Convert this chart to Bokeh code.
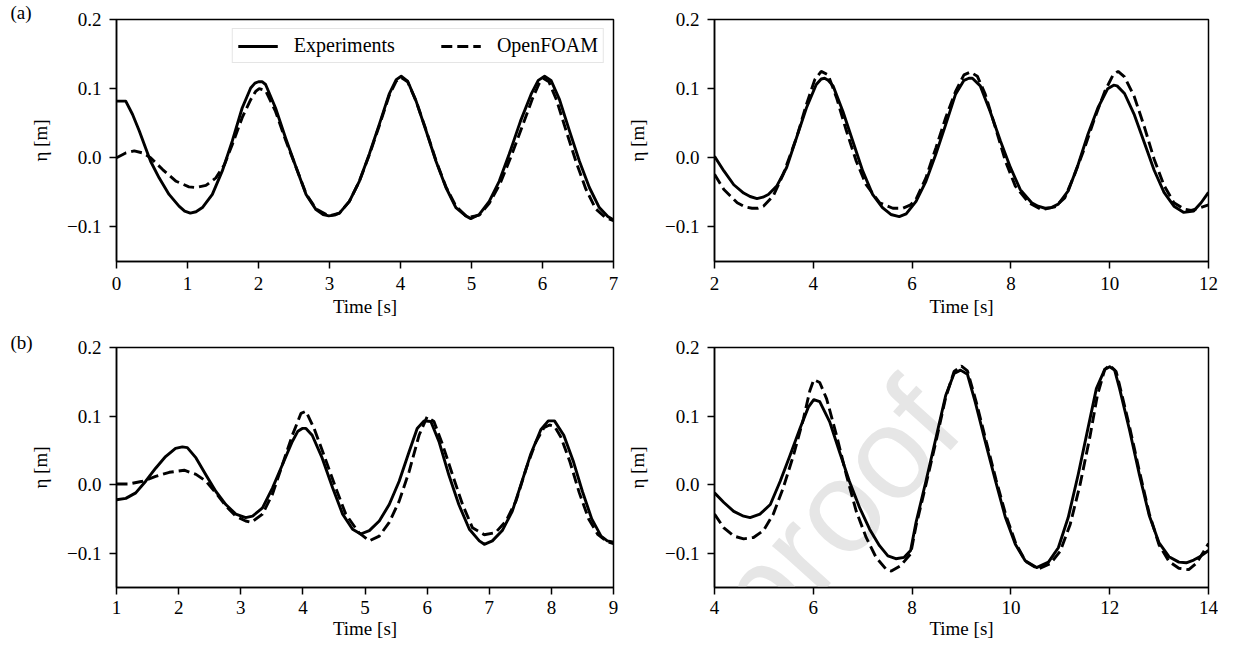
import math
from bokeh.plotting import figure
from bokeh.models import Label, FixedTicker
from bokeh.layouts import column, row
from bokeh.embed import file_html
from bokeh.resources import INLINE

# ---------------- data ----------------
series_names = ["Experiments", "OpenFOAM"]
panel_labels = ["(a)", "(b)"]
x_label = "Time [s]"
y_label = "η [m]"
y_ticks = [-0.1, 0.0, 0.1, 0.2]
y_tick_labels = ["−0.1", "0.0", "0.1", "0.2"]
watermark_text = "Journal Pre-proof"

# (a) left
a1_xticks = [0, 1, 2, 3, 4, 5, 6, 7]
a1_exp_t = [0, 0.13, 0.225, 0.32, 0.41, 0.48, 0.60, 0.74, 0.88, 0.96, 1.04, 1.12, 1.21, 1.35, 1.49,
            1.63, 1.77, 1.89, 1.95, 2.0, 2.05, 2.10, 2.24, 2.38, 2.53, 2.67, 2.81, 2.91, 2.99, 3.07,
            3.14, 3.28, 3.42, 3.56, 3.70, 3.84, 3.94, 4.01, 4.10, 4.22, 4.36, 4.50, 4.64, 4.78, 4.92,
            4.99, 5.11, 5.25, 5.39, 5.53, 5.69, 5.84, 5.94, 6.03, 6.12, 6.24, 6.38, 6.52, 6.66, 6.80,
            6.92, 7.0]
a1_exp_eta = [0.082, 0.082, 0.063, 0.039, 0.014, -0.005, -0.029, -0.053, -0.070, -0.077, -0.080, -0.078,
              -0.072, -0.053, -0.019, 0.024, 0.072, 0.101, 0.108, 0.110, 0.110, 0.106, 0.072, 0.029,
              -0.014, -0.053, -0.075, -0.082, -0.084, -0.083, -0.080, -0.063, -0.034, 0.005, 0.048,
              0.092, 0.113, 0.118, 0.111, 0.082, 0.039, -0.005, -0.043, -0.072, -0.084, -0.088, -0.082,
              -0.063, -0.034, 0.005, 0.053, 0.092, 0.112, 0.118, 0.112, 0.084, 0.039, -0.005, -0.043,
              -0.072, -0.085, -0.090]
a1_cfd_t = [0, 0.13, 0.25, 0.37, 0.48, 0.65, 0.84, 1.02, 1.12, 1.26, 1.40, 1.52, 1.63, 1.77, 1.89,
            1.96, 2.01, 2.10, 2.24, 2.38, 2.53, 2.67, 2.81, 2.99, 3.14, 3.28, 3.42, 3.56, 3.70, 3.84,
            3.94, 4.01, 4.10, 4.22, 4.36, 4.50, 4.64, 4.78, 4.92, 4.97, 5.11, 5.25, 5.40, 5.55, 5.72,
            5.86, 5.95, 6.01, 6.09, 6.20, 6.33, 6.47, 6.61, 6.75, 6.88, 7.0]
a1_cfd_eta = [0.0, 0.007, 0.010, 0.007, 0.0, -0.017, -0.034, -0.042, -0.043, -0.040, -0.029, -0.010,
              0.019, 0.058, 0.084, 0.096, 0.100, 0.097, 0.067, 0.026, -0.014, -0.052, -0.074, -0.084,
              -0.080, -0.063, -0.034, 0.004, 0.046, 0.090, 0.111, 0.116, 0.110, 0.082, 0.040, -0.004,
              -0.042, -0.070, -0.084, -0.086, -0.083, -0.066, -0.038, 0.000, 0.047, 0.086, 0.107, 0.115,
              0.110, 0.083, 0.040, -0.005, -0.045, -0.074, -0.086, -0.091]

# (a) right
a2_xticks = [2, 4, 6, 8, 10, 12]
a2_exp_t = [2.0, 2.19, 2.39, 2.59, 2.72, 2.86, 2.98, 3.09, 3.26, 3.46, 3.66, 3.86, 4.06, 4.16, 4.23,
            4.30, 4.40, 4.60, 4.80, 5.0, 5.20, 5.40, 5.57, 5.74, 5.88, 6.08, 6.28, 6.48, 6.68, 6.88,
            7.05, 7.15, 7.22, 7.38, 7.58, 7.79, 7.99, 8.19, 8.42, 8.55, 8.69, 8.82, 8.96, 9.16, 9.36,
            9.56, 9.76, 9.96, 10.08, 10.15, 10.3, 10.5, 10.7, 10.9, 11.1, 11.3, 11.5, 11.7, 11.85, 12.0]
a2_exp_eta = [0.002, -0.019, -0.039, -0.051, -0.056, -0.059, -0.057, -0.053, -0.041, -0.014, 0.029,
              0.072, 0.106, 0.114, 0.115, 0.112, 0.104, 0.067, 0.024, -0.019, -0.053, -0.072, -0.082,
              -0.085, -0.081, -0.063, -0.034, 0.005, 0.048, 0.092, 0.112, 0.115, 0.115, 0.104, 0.067,
              0.024, -0.014, -0.046, -0.065, -0.070, -0.073, -0.072, -0.067, -0.048, -0.010, 0.034,
              0.072, 0.100, 0.105, 0.104, 0.093, 0.062, 0.022, -0.018, -0.050, -0.070, -0.079, -0.077,
              -0.065, -0.050]
a2_cfd_t = [2.0, 2.19, 2.46, 2.62, 2.76, 2.88, 2.99, 3.19, 3.39, 3.66, 3.86, 4.03, 4.16, 4.30, 4.47,
            4.67, 4.87, 5.07, 5.34, 5.61, 5.81, 5.97, 6.08, 6.28, 6.48, 6.68, 6.88, 7.05, 7.18, 7.32,
            7.48, 7.69, 7.89, 8.09, 8.36, 8.62, 8.89, 9.09, 9.29, 9.49, 9.70, 9.90, 10.07, 10.17, 10.3,
            10.5, 10.7, 10.9, 11.1, 11.3, 11.5, 11.65, 11.8, 12.0]
a2_cfd_eta = [-0.024, -0.046, -0.065, -0.071, -0.073, -0.073, -0.070, -0.055, -0.024, 0.029, 0.077,
              0.113, 0.125, 0.120, 0.087, 0.039, -0.005, -0.039, -0.065, -0.073, -0.073, -0.068, -0.060,
              -0.029, 0.014, 0.058, 0.096, 0.120, 0.124, 0.118, 0.092, 0.043, -0.005, -0.041, -0.065,
              -0.075, -0.071, -0.058, -0.024, 0.014, 0.058, 0.096, 0.120, 0.125, 0.117, 0.088, 0.045,
              -0.002, -0.040, -0.065, -0.074, -0.076, -0.073, -0.068]

# (b) left
b1_xticks = [1, 2, 3, 4, 5, 6, 7, 8, 9]
b1_exp_t = [1.0, 1.15, 1.31, 1.47, 1.63, 1.79, 1.95, 2.06, 2.14, 2.28, 2.44, 2.60, 2.76, 2.92, 3.08,
            3.19, 3.35, 3.51, 3.67, 3.83, 3.92, 3.99, 4.05, 4.15, 4.31, 4.48, 4.64, 4.80, 4.93, 5.07,
            5.23, 5.39, 5.55, 5.71, 5.84, 5.95, 6.06, 6.19, 6.35, 6.51, 6.68, 6.84, 6.92, 7.05, 7.21,
            7.37, 7.51, 7.67, 7.83, 7.95, 8.05, 8.2, 8.35, 8.5, 8.65, 8.8, 8.9, 9.0]
b1_exp_eta = [-0.022, -0.020, -0.012, 0.005, 0.024, 0.041, 0.053, 0.055, 0.054, 0.039, 0.014, -0.010,
              -0.029, -0.043, -0.048, -0.046, -0.034, -0.005, 0.029, 0.063, 0.078, 0.082, 0.082, 0.072,
              0.039, -0.005, -0.043, -0.065, -0.072, -0.067, -0.053, -0.029, 0.005, 0.048, 0.082, 0.093,
              0.092, 0.063, 0.014, -0.029, -0.065, -0.082, -0.087, -0.082, -0.067, -0.039, 0.000, 0.045,
              0.080, 0.093, 0.093, 0.072, 0.035, -0.010, -0.050, -0.075, -0.082, -0.084]
b1_cfd_t = [1.0, 1.2, 1.42, 1.63, 1.85, 2.09, 2.28, 2.44, 2.60, 2.76, 2.92, 3.08, 3.17, 3.35, 3.51,
            3.67, 3.83, 3.97, 4.05, 4.18, 4.34, 4.53, 4.69, 4.90, 5.07, 5.23, 5.39, 5.55, 5.71, 5.87,
            6.00, 6.11, 6.25, 6.41, 6.57, 6.73, 6.92, 7.10, 7.27, 7.43, 7.60, 7.75, 7.88, 7.97, 8.05,
            8.15, 8.3, 8.45, 8.6, 8.75, 8.9, 9.0]
b1_cfd_eta = [0.001, 0.001, 0.005, 0.012, 0.018, 0.021, 0.015, 0.005, -0.012, -0.031, -0.046, -0.053,
              -0.055, -0.043, -0.014, 0.029, 0.072, 0.104, 0.107, 0.082, 0.043, -0.005, -0.043, -0.070,
              -0.082, -0.075, -0.055, -0.024, 0.019, 0.072, 0.099, 0.092, 0.058, 0.014, -0.029, -0.063,
              -0.073, -0.070, -0.053, -0.024, 0.025, 0.062, 0.083, 0.087, 0.085, 0.070, 0.033, -0.012,
              -0.050, -0.073, -0.083, -0.086]

# (b) right
b2_xticks = [4, 6, 8, 10, 12, 14]
b2_exp_t = [4.0, 4.19, 4.39, 4.59, 4.72, 4.92, 5.13, 5.33, 5.53, 5.73, 5.90, 6.01, 6.13, 6.33, 6.53,
            6.73, 6.94, 7.14, 7.34, 7.51, 7.67, 7.84, 7.97, 8.08, 8.28, 8.48, 8.68, 8.85, 8.98, 9.12,
            9.28, 9.48, 9.69, 9.89, 10.09, 10.29, 10.52, 10.76, 10.96, 11.16, 11.36, 11.56, 11.73,
            11.90, 12.0, 12.1, 12.2, 12.4, 12.6, 12.8, 13.0, 13.2, 13.4, 13.55, 13.7, 13.85, 14.0]
b2_exp_eta = [-0.012, -0.026, -0.039, -0.046, -0.048, -0.043, -0.029, 0.005, 0.043, 0.082, 0.113, 0.124,
              0.121, 0.092, 0.048, 0.005, -0.034, -0.065, -0.089, -0.104, -0.108, -0.106, -0.096, -0.055,
              0.005, 0.067, 0.130, 0.162, 0.167, 0.161, 0.120, 0.063, 0.005, -0.048, -0.087, -0.111,
              -0.121, -0.113, -0.092, -0.048, 0.014, 0.082, 0.140, 0.168, 0.172, 0.167, 0.140, 0.080,
              0.015, -0.045, -0.085, -0.105, -0.113, -0.114, -0.110, -0.104, -0.096]
b2_cfd_t = [4.0, 4.19, 4.39, 4.59, 4.79, 4.99, 5.19, 5.39, 5.60, 5.80, 5.93, 6.01, 6.13, 6.27, 6.47,
            6.67, 6.87, 7.07, 7.27, 7.47, 7.58, 7.77, 7.97, 8.08, 8.28, 8.48, 8.68, 8.85, 9.0, 9.12,
            9.3, 9.5, 9.7, 9.9, 10.1, 10.3, 10.55, 10.8, 11.0, 11.2, 11.4, 11.6, 11.75, 11.9, 12.0,
            12.13, 12.2, 12.4, 12.6, 12.8, 13.0, 13.2, 13.4, 13.6, 13.75, 13.9, 14.0]
b2_cfd_eta = [-0.043, -0.063, -0.075, -0.079, -0.077, -0.067, -0.043, -0.005, 0.043, 0.096, 0.137, 0.153,
              0.149, 0.125, 0.072, 0.014, -0.039, -0.077, -0.106, -0.123, -0.126, -0.118, -0.101, -0.060,
              0.0, 0.062, 0.127, 0.165, 0.173, 0.166, 0.120, 0.063, 0.007, -0.045, -0.086, -0.112,
              -0.123, -0.115, -0.097, -0.058, 0.0, 0.070, 0.130, 0.168, 0.174, 0.165, 0.145, 0.085,
              0.020, -0.042, -0.088, -0.112, -0.122, -0.124, -0.115, -0.098, -0.086]

# ---------------- layout / style ----------------
FONT = "Liberation Serif"
TICK_FS = "19px"
Y_RANGE = (-0.15, 0.2)
LEFT_W, RIGHT_W = 619, 599
TOP_H, BOT_H = 319, 322
FW_L, FW_R = 497, 494
FH_T, FH_B = 243, 240
BL_L, BL_R = 116, 95
BT_T, BT_B = 19, 28


def make_panel(x_range, xticks, width, height, fw, fh, bl, bt, tick_sd, lab_sd, ylab_sd):
    p = figure(width=width, height=height, x_range=x_range, y_range=Y_RANGE,
               output_backend="svg", toolbar_location=None,
               min_border_left=bl, min_border_right=width - bl - fw,
               min_border_top=bt, min_border_bottom=height - bt - fh)
    p.background_fill_color = "white"
    p.border_fill_color = "white"
    p.outline_line_color = "black"
    p.outline_line_width = 1.5
    p.outline_line_alpha = 1.0
    p.grid.visible = False
    for ax in (p.xaxis[0], p.yaxis[0]):
        ax.axis_line_color = "black"
        ax.axis_line_width = 1.5
        ax.major_tick_line_color = "black"
        ax.major_tick_line_width = 1.5
        ax.major_tick_out = 7
        ax.major_tick_in = 0
        ax.minor_tick_line_color = None
        ax.major_label_text_font = FONT
        ax.major_label_text_font_size = TICK_FS
        ax.major_label_text_color = "black"
        ax.axis_label_text_font = FONT
        ax.axis_label_text_font_size = TICK_FS
        ax.axis_label_text_font_style = "normal"
        ax.axis_label_text_color = "black"
    p.xaxis.ticker = FixedTicker(ticks=xticks)
    p.xaxis.major_label_standoff = tick_sd
    p.xaxis.axis_label = x_label
    p.xaxis.axis_label_standoff = lab_sd
    p.yaxis.ticker = FixedTicker(ticks=y_ticks)
    p.yaxis.major_label_overrides = {float(k): v for k, v in zip(y_ticks, y_tick_labels)}
    p.yaxis.major_label_standoff = 8
    p.yaxis.axis_label = y_label
    p.yaxis.axis_label_standoff = ylab_sd
    return p


def add_series(p, t1, e1, t2, e2, legend=False):
    kw1 = dict(legend_label=series_names[0]) if legend else {}
    kw2 = dict(legend_label=series_names[1]) if legend else {}
    p.line(t1, e1, line_color="black", line_width=2.9, line_join="round", **kw1)
    p.line(t2, e2, line_color="black", line_width=2.9, line_dash="11 5", **kw2)


def panel_title(p, text, standoff):
    p.title.text = text
    p.title.align = "left"
    p.title.offset = 10 - BL_L
    p.title.standoff = standoff
    p.title.text_font = FONT
    p.title.text_font_size = "19px"
    p.title.text_font_style = "normal"
    p.title.text_color = "black"


pa1 = make_panel((0, 7), a1_xticks, LEFT_W, TOP_H, FW_L, FH_T, BL_L, BT_T, 8, 3, 13)
pa2 = make_panel((2, 12), a2_xticks, RIGHT_W, TOP_H, FW_R, FH_T, BL_R, BT_T, 8, 3, 14)
pb1 = make_panel((1, 9), b1_xticks, LEFT_W, BOT_H, FW_L, FH_B, BL_L, BT_B, 6, 1, 13)
pb2 = make_panel((4, 14), b2_xticks, RIGHT_W, BOT_H, FW_R, FH_B, BL_R, BT_B, 6, 1, 14)

panel_title(pa1, panel_labels[0], -6)
panel_title(pb1, panel_labels[1], -11)

add_series(pa1, a1_exp_t, a1_exp_eta, a1_cfd_t, a1_cfd_eta, legend=True)
add_series(pa2, a2_exp_t, a2_exp_eta, a2_cfd_t, a2_cfd_eta)
add_series(pb1, b1_exp_t, b1_exp_eta, b1_cfd_t, b1_cfd_eta)
add_series(pb2, b2_exp_t, b2_exp_eta, b2_cfd_t, b2_cfd_eta)

# watermark (light grey, behind the curves, inside the lower-right frame)
WM_ANGLE = math.radians(48)
WM_FS = 130
ux, uy = math.cos(WM_ANGLE), -math.sin(WM_ANGLE)
nx, ny = -math.sin(WM_ANGLE), -math.cos(WM_ANGLE)
cpx, cpy = 734, 572                       # centre of the "p" of "proof" (page px)
bx, by = cpx - 0.26 * WM_FS * nx, cpy - 0.26 * WM_FS * ny
sx, sy = bx - 5.724 * WM_FS * ux, by - 5.724 * WM_FS * uy
f_left, f_top = LEFT_W + BL_R, TOP_H + BT_B
wx = 4 + (sx - f_left) * 10 / FW_R
wy = Y_RANGE[1] - (sy - f_top) * (Y_RANGE[1] - Y_RANGE[0]) / FH_B
pb2.add_layout(Label(x=wx, y=wy, text=watermark_text, angle=WM_ANGLE, angle_units="rad",
                     text_font="Liberation Sans", text_font_size=f"{WM_FS}px",
                     text_color="#e6e6e6", text_align="left", text_baseline="alphabetic",
                     level="underlay"))

lg = pa1.legend[0]
lg.location = "top_right"
lg.orientation = "horizontal"
lg.margin = 9
lg.padding = 5
lg.spacing = 46
lg.glyph_width = 40
lg.glyph_height = 16
lg.label_height = 16
lg.label_standoff = 16
lg.label_text_font = FONT
lg.label_text_font_size = "20px"
lg.label_text_color = "black"
lg.border_line_color = "#cccccc"
lg.border_line_width = 1.2
lg.background_fill_alpha = 0.8

layout = column(row(pa1, pa2), row(pb1, pb2))
open("out.html", "w").write(file_html(layout, INLINE))
